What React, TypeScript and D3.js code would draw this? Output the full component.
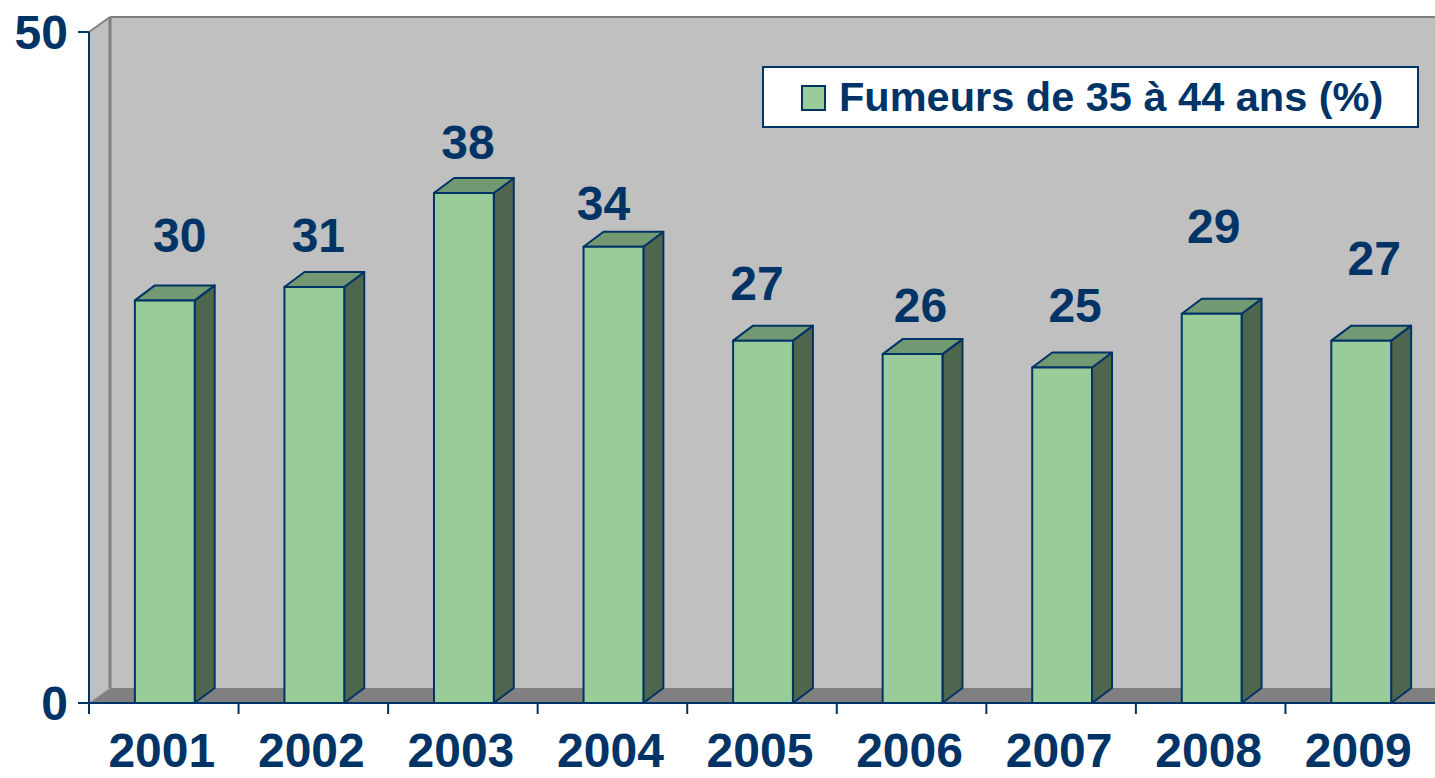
import * as d3 from 'd3';

const years = ['2001', '2002', '2003', '2004', '2005', '2006', '2007', '2008', '2009'];
const smokers = [30, 31, 38, 34, 27, 26, 25, 29, 27];
const yTicks = [0, 50];
const legendLabel = 'Fumeurs de 35 à 44 ans (%)';

// value labels were dragged by hand in the original, so each one has its own nudge
const labelNudgeX = [15, 4, 4, -10, -6, 8, 13, 2, 13];
const labelRise = [48, 35, 34, 27, 41, 32, 46, 71, 66];

const W = 1435;
const H = 778;
const margin = { left: 89, right: 0, top: 32, bottom: 75 };
const wallDepth = { dx: 21, dy: 15 };
const barDepth = { dx: 20, dy: 15 };

const COLORS = {
    text: '#003366',
    wall: '#c0c0c0',
    wallEdge: '#808080',
    floor: '#808080',
    front: '#99cc99',
    top: '#739973',
    side: '#4d664d',
};

const FONT = '"Liberation Sans", Arial, sans-serif';

export default function App() {
    const x = d3.scaleBand().domain(years).range([margin.left, W - margin.right]);
    const y = d3.scaleLinear().domain([0, 50]).range([H - margin.bottom, margin.top]);
    const bw = x.bandwidth();
    const barW = bw * 0.4;
    const y0 = y(0);
    const y50 = y(50);
    const right = W + 30;

    const pts = (p: number[][]) => p.map((d) => d.join(',')).join(' ');

    return (
        <svg width={W} height={H} style={{ position: 'absolute', left: 0, top: 0 }} fontFamily={FONT} fontWeight="bold">
            {/* back wall */}
            <rect x={margin.left + wallDepth.dx} y={y50 - wallDepth.dy} width={right} height={y0 - y50} fill={COLORS.wall} />
            <line x1={margin.left + wallDepth.dx} x2={right} y1={y50 - wallDepth.dy} y2={y50 - wallDepth.dy} stroke={COLORS.wallEdge} strokeWidth={2} />
            {/* side wall */}
            <polygon
                points={pts([
                    [margin.left, y0],
                    [margin.left, y50],
                    [margin.left + wallDepth.dx, y50 - wallDepth.dy],
                    [margin.left + wallDepth.dx, y0 - wallDepth.dy],
                ])}
                fill={COLORS.wall}
            />
            <line x1={margin.left} y1={y50} x2={margin.left + wallDepth.dx} y2={y50 - wallDepth.dy} stroke={COLORS.wallEdge} strokeWidth={2} />
            {/* floor */}
            <polygon
                points={pts([
                    [margin.left, y0],
                    [margin.left + wallDepth.dx, y0 - wallDepth.dy],
                    [right, y0 - wallDepth.dy],
                    [right, y0],
                ])}
                fill={COLORS.floor}
            />
            <line x1={margin.left + wallDepth.dx} x2={margin.left + wallDepth.dx} y1={y50 - wallDepth.dy} y2={y0 - wallDepth.dy} stroke={COLORS.wallEdge} strokeWidth={3} />
            <line x1={margin.left} y1={y0} x2={margin.left + wallDepth.dx} y2={y0 - wallDepth.dy} stroke="#a0a0a0" strokeWidth={1} />

            {/* bars */}
            {years.map((yr, i) => {
                const x0 = (x(yr) ?? 0) + (bw - barW) / 2 + 1;
                const x1 = x0 + barW;
                const top = y(smokers[i]);
                const { dx, dy } = barDepth;
                return (
                    <g key={yr} stroke={COLORS.text} strokeWidth={2} strokeLinejoin="round">
                        <polygon points={pts([[x1, y0], [x1, top], [x1 + dx, top - dy], [x1 + dx, y0 - dy]])} fill={COLORS.side} />
                        <polygon points={pts([[x0, top], [x0 + dx, top - dy], [x1 + dx, top - dy], [x1, top]])} fill={COLORS.top} />
                        <rect x={x0} y={top} width={barW} height={y0 - top} fill={COLORS.front} />
                    </g>
                );
            })}

            {/* value labels */}
            {years.map((yr, i) => (
                <text
                    key={`lbl-${yr}`}
                    x={(x(yr) ?? 0) + bw / 2 + 1 + labelNudgeX[i]}
                    y={y(smokers[i]) - labelRise[i]}
                    textAnchor="middle"
                    fontSize={48}
                    fill={COLORS.text}
                >
                    {smokers[i]}
                </text>
            ))}

            {/* axes */}
            <line x1={margin.left} x2={margin.left} y1={y50} y2={y0 + 11} stroke={COLORS.text} strokeWidth={2} />
            <line x1={margin.left - 11} x2={W} y1={y0} y2={y0} stroke={COLORS.text} strokeWidth={2} />
            {yTicks.map((t) => (
                <g key={`yt-${t}`}>
                    <line x1={margin.left - 11} x2={margin.left} y1={y(t)} y2={y(t)} stroke={COLORS.text} strokeWidth={2} />
                    <text x={68} y={y(t) + 17} textAnchor="end" fontSize={48} fill={COLORS.text}>
                        {t}
                    </text>
                </g>
            ))}
            {years.map((yr) => (
                <g key={`xt-${yr}`}>
                    <line x1={x(yr)} x2={x(yr)} y1={y0} y2={y0 + 11} stroke={COLORS.text} strokeWidth={2} />
                    <text x={(x(yr) ?? 0) + bw / 2 - 2} y={767} textAnchor="middle" fontSize={48} fill={COLORS.text}>
                        {yr}
                    </text>
                </g>
            ))}

            {/* legend */}
            <rect x={763} y={67} width={655} height={60} fill="#ffffff" stroke={COLORS.text} strokeWidth={2} />
            <rect x={802} y={86} width={23} height={24} fill={COLORS.front} stroke={COLORS.text} strokeWidth={2} />
            <text x={839} y={111} fontSize={41.5} fill={COLORS.text}>
                {legendLabel}
            </text>
        </svg>
    );
}
